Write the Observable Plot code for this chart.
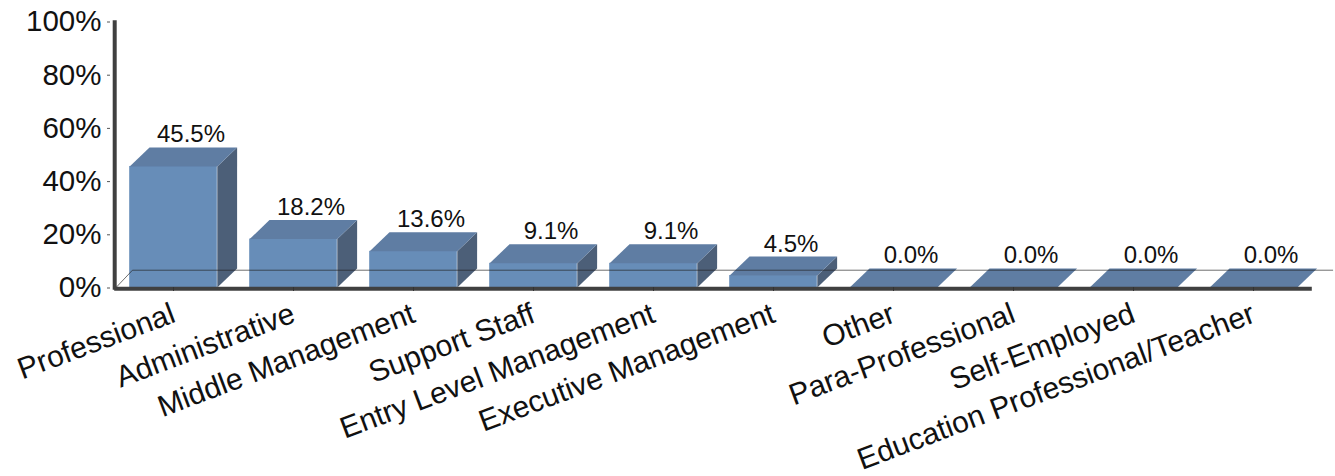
<!DOCTYPE html>
<html>
<head>
<meta charset="utf-8">
<script src="https://cdn.jsdelivr.net/npm/d3@7"></script>
<script src="https://cdn.jsdelivr.net/npm/@observablehq/plot@0.6"></script>
<style>html,body{margin:0;padding:0;background:#fff}svg{display:block}</style>
</head>
<body>
<div id="chart"></div>
<script>
const categories = ["Professional","Administrative","Middle Management","Support Staff","Entry Level Management","Executive Management","Other","Para-Professional","Self-Employed","Education Professional/Teacher"];
const values = [45.5,18.2,13.6,9.1,9.1,4.5,0,0,0,0];
const valueLabels = ["45.5%","18.2%","13.6%","9.1%","9.1%","4.5%","0.0%","0.0%","0.0%","0.0%"];
const yTicks = [0,20,40,60,80,100];

const W = 0.365, DX = 0.165, DY = 7.15;
const table = values.map((v,i)=>({i,v,label:valueLabels[i]}));
const poly = (pts,id)=>pts.map(([x,y])=>({x,y,id}));
const tops = table.flatMap(d=>poly([[d.i-W,d.v],[d.i+W,d.v],[d.i+W+DX,d.v+DY],[d.i-W+DX,d.v+DY]],d.i));
const sides = table.filter(d=>d.v>0).flatMap(d=>poly([[d.i+W,0],[d.i+W+DX,DY],[d.i+W+DX,d.v+DY],[d.i+W,d.v]],d.i));
const floorEdge = [{x:-0.483,y:-0.2},{x:-0.342,y:6.5},{x:9.66,y:6.5}];

const chart = Plot.plot({
  width:1335, height:476,
  marginLeft:110, marginTop:21, marginBottom:189, marginRight:0,
  style:{fontFamily:"'Liberation Sans',Arial,sans-serif",background:"#fff",color:"#111"},
  x:{domain:[0,9],range:[173,1253],axis:null},
  y:{domain:[0,100]},
  marks:[
    Plot.rect(table.filter(d=>d.v>0),{x1:d=>d.i-W,x2:d=>d.i+W,y1:0,y2:"v",fill:"#678db8"}),
    Plot.line(sides,{x:"x",y:"y",z:"id",fill:"#4c5f78",stroke:null,curve:"linear"}),
    Plot.line(tops,{x:"x",y:"y",z:"id",fill:"#5f7da3",stroke:null,curve:"linear"}),
    Plot.line(floorEdge,{x:"x",y:"y",stroke:"#222",strokeWidth:1,strokeOpacity:0.65}),
    Plot.ruleY([-0.5],{x1:-0.49,x2:9.49,stroke:"#404040",strokeWidth:4}),
    Plot.ruleX([-0.49],{y1:-1,y2:100.3,stroke:"#404040",strokeWidth:4}),
    Plot.axisY({ticks:yTicks,anchor:"left",tickSize:3,tickPadding:6,fontSize:29.5,label:null,tickFormat:d=>d+"%",stroke:"#555",dy:0.5}),
    Plot.axisX({ticks:d3.range(10),anchor:"bottom",tickSize:4,tickPadding:21,fontSize:30,label:null,tickRotate:-20.6,tickFormat:i=>categories[i],stroke:"#333",fill:"#111"}),
    Plot.text(table,{x:d=>d.i+DX/1.1,y:d=>d.v+DY,text:"label",fontSize:24,lineAnchor:"bottom",dy:-5,dx:-0.5,fill:"#111"})
  ]
});
document.getElementById("chart").append(chart);
</script>
</body>
</html>
